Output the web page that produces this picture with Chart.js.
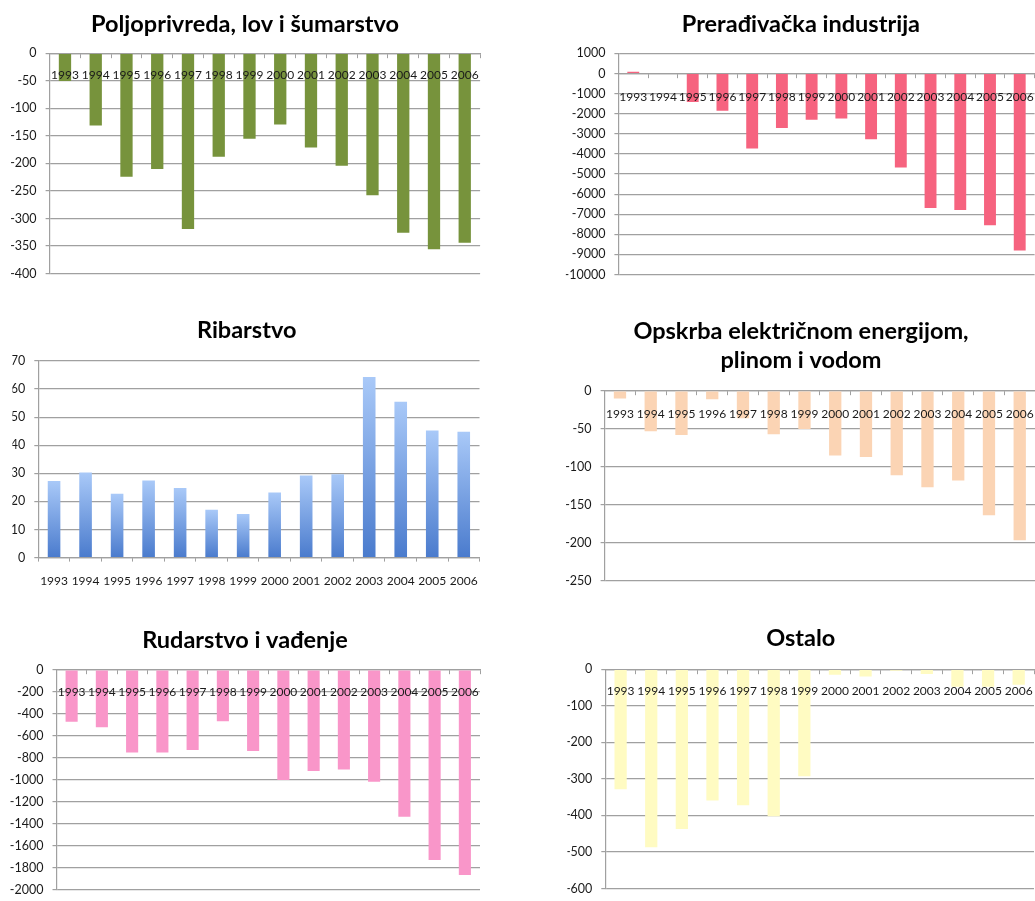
<!DOCTYPE html>
<html>
<head>
<meta charset="utf-8">
<script src="https://cdn.jsdelivr.net/npm/chart.js@4.4.1/dist/chart.umd.min.js"></script>
<style>
  html, body { margin: 0; padding: 0; background: #fff; overflow: hidden; width: 1035px; height: 901px; }
  canvas { position: absolute; }
</style>
</head>
<body>
<canvas id="c1"></canvas>
<canvas id="c2"></canvas>
<canvas id="c3"></canvas>
<canvas id="c4"></canvas>
<canvas id="c5"></canvas>
<canvas id="c6"></canvas>
<script>
const godine = ['1993','1994','1995','1996','1997','1998','1999','2000','2001','2002','2003','2004','2005','2006'];

const poljoprivreda = [-50, -131, -224, -210, -319, -188, -155, -129, -171, -204, -258, -326, -356, -344];
const preradjivacka = [90, 30, -1420, -1855, -3726, -2710, -2306, -2242, -3274, -4677, -6694, -6790, -7548, -8806];
const ribarstvo = [27.3, 30.3, 22.7, 27.4, 24.8, 17.0, 15.5, 23.2, 29.2, 29.7, 64.3, 55.5, 45.2, 44.8];
const opskrba = [-10, -53, -58, -11, -36, -57, -50, -85, -87, -111, -127, -118, -164, -197];
const rudarstvo = [-472, -522, -752, -752, -729, -466, -737, -1003, -920, -906, -1018, -1336, -1732, -1867];
const ostalo = [-328, -487, -437, -359, -372, -402, -293, -15, -20, -4, -13, -48, -48, -42];

const SIVA = '#a0a0a0';
const FONT = 'Lato, "Open Sans", sans-serif';
let charts = {};

// svaki stupac ima svoj gradijent (svijetlo gore, tamnije dolje)
function gradijentPlavi(context){
  if (context.type !== 'data') return '#6f9be0';
  const chart = context.chart;
  const y = chart.scales.y;
  if (!y || y.top === undefined) return '#6f9be0';
  const yTop = y.getPixelForValue(context.raw);
  const yBot = y.getPixelForValue(0);
  if (!isFinite(yTop) || !isFinite(yBot) || yTop === yBot) return '#6f9be0';
  const g = chart.ctx.createLinearGradient(0, yTop, 0, yBot);
  g.addColorStop(0, '#a9c9f8');
  g.addColorStop(1, '#4a7bcd');
  return g;
}

function napraviGraf(id, o){
  const el = document.getElementById(id);
  el.style.left = o.left + 'px';
  el.style.top = o.top + 'px';
  el.width = o.w;
  el.height = o.h;

  const xPos = o.dolje ? 'bottom' : { y: 0 };

  return new Chart(el, {
    type: 'bar',
    data: {
      labels: godine,
      datasets: [{
        data: o.podaci,
        backgroundColor: o.boja,
        barPercentage: 0.4,
        categoryPercentage: 1.0,
        borderWidth: 0
      }]
    },
    options: {
      responsive: false,
      animation: false,
      devicePixelRatio: 1,
      layout: { padding: { left: o.pl, right: o.pr, top: 0, bottom: o.pb } },
      plugins: {
        legend: { display: false },
        tooltip: { enabled: false },
        title: {
          display: true,
          text: o.naslov,
          color: '#000',
          font: { family: FONT, size: 23.5, weight: 'bold', lineHeight: o.lh || (26.4 / 23.5) },
          padding: { top: o.tPad[0], bottom: o.tPad[1] }
        }
      },
      scales: {
        x: {
          position: xPos,
          grid: { display: true, drawOnChartArea: false, drawTicks: true, tickLength: 4, color: SIVA, offset: true },
          border: { display: true, color: SIVA, width: 1.2 },
          // oznake godina idu preko stupaca
          ticks: { z: 2, color: '#1a1a1a', font: { family: FONT, size: 12 }, padding: o.xPad, maxRotation: 0, autoSkip: false }
        },
        y: {
          min: o.min, max: o.max,
          afterFit: s => { s.width = o.yW; },
          grid: { color: SIVA, lineWidth: 1.2, drawTicks: true, tickLength: 4 },
          border: { display: true, color: SIVA, width: 1.2 },
          ticks: {
            stepSize: o.korak,
            color: '#1a1a1a',
            font: { family: FONT, size: 12.5 },
            padding: 9,
            callback: v => String(v)
          }
        }
      }
    }
  });
}

charts.c1 = napraviGraf('c1', {
  left: 0, top: 0, w: 490, h: 290, pl: 9.6, pr: 9.6, pb: 10, yW: 40,
  naslov: 'Poljoprivreda, lov i šumarstvo', tPad: [11, 16],
  podaci: poljoprivreda, boja: '#77933c', min: -400, max: 0, korak: 50, xPad: 11
});

charts.c2 = napraviGraf('c2', {
  left: 530, top: 0, w: 516, h: 291, pl: 35.8, pr: 10, pb: 10, yW: 52.6,
  naslov: 'Prerađivačka industrija', tPad: [11, 16],
  podaci: preradjivacka, boja: '#f6637f', min: -10000, max: 1000, korak: 1000, xPad: 12
});

charts.c3 = napraviGraf('c3', {
  left: 0, top: 300, w: 490, h: 300, pl: 12.4, pr: 9, pb: 0, yW: 25.9,
  naslov: 'Ribarstvo', tPad: [17.5, 17],
  podaci: ribarstvo, boja: gradijentPlavi, min: 0, max: 70, korak: 10, xPad: 12, dolje: true
});

charts.c4 = napraviGraf('c4', {
  left: 530, top: 300, w: 516, h: 297, pl: 36, pr: 10, pb: 10, yW: 38.6,
  naslov: ['Opskrba električnom energijom,', 'plinom i vodom'], tPad: [17, 16], lh: 29 / 23.5,
  podaci: opskrba, boja: '#fbd4b4', min: -250, max: 0, korak: 50, xPad: 12
});

charts.c5 = napraviGraf('c5', {
  left: 0, top: 600, w: 490, h: 306, pl: 10, pr: 10, pb: 10, yW: 46.5,
  naslov: 'Rudarstvo i vađenje', tPad: [26.8, 16.8],
  podaci: rudarstvo, boja: '#f996c9', min: -2000, max: 0, korak: 200, xPad: 10.5
});

charts.c6 = napraviGraf('c6', {
  left: 530, top: 600, w: 514, h: 305, pl: 37.4, pr: 10, pb: 10, yW: 37.9,
  naslov: 'Ostalo', tPad: [25.1, 17.8],
  podaci: ostalo, boja: '#fffbc2', min: -600, max: 0, korak: 100, xPad: 10.5
});
</script>
</body>
</html>
